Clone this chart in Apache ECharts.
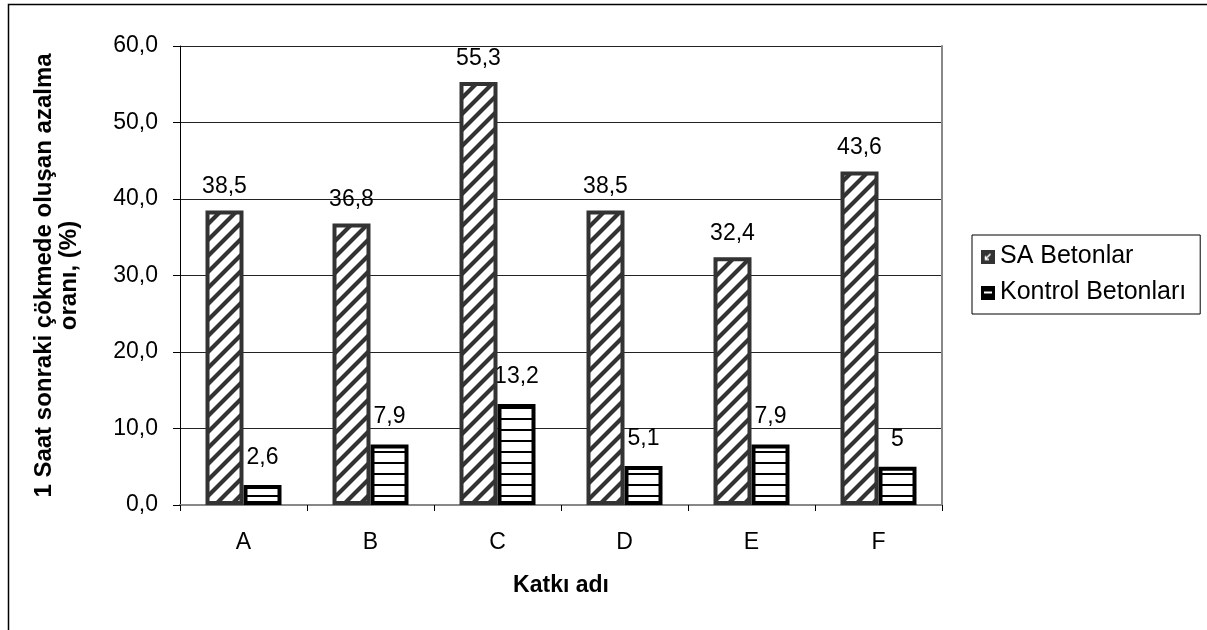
<!DOCTYPE html>
<html>
<head>
<meta charset="utf-8">
<script src="https://cdn.jsdelivr.net/npm/echarts@6/dist/echarts.min.js"></script>
<style>
  html, body { margin: 0; padding: 0; background: #fff; }
  #chart { width: 1207px; height: 630px; }
</style>
</head>
<body>
<div id="chart"></div>
<script>
// Katkı türlerine göre 1 saat sonraki çökme kaybı
const categories = ['A', 'B', 'C', 'D', 'E', 'F'];
const saBetonlar = [38.5, 36.8, 55.3, 38.5, 32.4, 43.6];
const kontrolBetonlari = [2.6, 7.9, 13.2, 5.1, 7.9, 5];
const yTickLabels = ['0,0', '10,0', '20,0', '30,0', '40,0', '50,0', '60,0'];
const seriesNames = ['SA Betonlar', 'Kontrol Betonları'];

const FONT = "'Liberation Sans', Arial, sans-serif";

// Diagonal hatch ("/") for the SA bars
function diagonalHatch() {
  const p = 16;
  const c = document.createElement('canvas');
  c.width = p; c.height = p;
  const ctx = c.getContext('2d');
  ctx.fillStyle = '#fff';
  ctx.fillRect(0, 0, p, p);
  ctx.strokeStyle = '#333';
  ctx.lineWidth = 4.2;
  ctx.beginPath();
  ctx.moveTo(-4, p + 4); ctx.lineTo(p + 4, -4);
  ctx.moveTo(-4, 4); ctx.lineTo(4, -4);
  ctx.moveTo(p - 4, p + 4); ctx.lineTo(p + 4, p - 4);
  ctx.stroke();
  return c;
}

// Horizontal stripes for the control bars
function horizontalHatch() {
  const c = document.createElement('canvas');
  c.width = 4; c.height = 11;
  const ctx = c.getContext('2d');
  ctx.fillStyle = '#fff';
  ctx.fillRect(0, 0, 4, 11);
  ctx.fillStyle = '#000';
  ctx.fillRect(0, 0, 4, 2);
  return c;
}

// Small legend swatches
function legendIcon(kind) {
  const s = 14;
  const c = document.createElement('canvas');
  c.width = s; c.height = s;
  const ctx = c.getContext('2d');
  if (kind === 'sa') {
    ctx.fillStyle = '#333';
    ctx.fillRect(0, 0, s, s);
    ctx.strokeStyle = '#fff';
    ctx.lineWidth = 1.5;
    ctx.beginPath();
    ctx.moveTo(4.5, 9.5); ctx.lineTo(9.5, 4.5);
    ctx.moveTo(4.5, 6.5); ctx.lineTo(4.5, 10); ctx.lineTo(8, 10);
    ctx.stroke();
  } else {
    ctx.fillStyle = '#000';
    ctx.fillRect(0, 0, s, s);
    ctx.fillStyle = '#fff';
    ctx.fillRect(3, 6, 8, 2);
  }
  return 'image://' + c.toDataURL();
}

const commaLabel = v => String(v).replace('.', ',');

const chart = echarts.init(document.getElementById('chart'), null, { renderer: 'canvas' });

chart.setOption({
  animation: false,
  backgroundColor: '#fff',
  textStyle: { fontFamily: FONT },
  graphic: [{
    type: 'rect',
    shape: { x: 8.5, y: 4.5, width: 1220, height: 660 },
    style: { fill: 'none', stroke: '#000', lineWidth: 1.5 },
    silent: true,
    z: -10
  }],
  grid: { left: 180, right: 265, top: 46, bottom: 125, containLabel: false },
  legend: {
    orient: 'vertical',
    left: 972,
    top: 235,
    padding: [9, 14, 9, 9],
    itemGap: 11,
    itemWidth: 14,
    itemHeight: 14,
    backgroundColor: '#fff',
    borderColor: '#000',
    borderWidth: 1,
    borderRadius: 0,
    textStyle: { fontFamily: FONT, fontSize: 25, color: '#000' },
    data: [
      { name: seriesNames[0], icon: legendIcon('sa') },
      { name: seriesNames[1], icon: legendIcon('kontrol') }
    ]
  },
  xAxis: [{
    type: 'category',
    data: categories,
    name: 'Katkı adı',
    nameLocation: 'middle',
    nameGap: 69,
    nameTextStyle: { fontFamily: FONT, fontSize: 23, fontWeight: 'bold', color: '#000' },
    axisLine: { show: true, lineStyle: { color: '#000', width: 1 } },
    axisTick: { show: true, length: 6, lineStyle: { color: '#000' } },
    axisLabel: { margin: 26, fontFamily: FONT, fontSize: 23, color: '#000' },
    splitLine: { show: false }
  }, {
    type: 'category',
    data: categories,
    position: 'top',
    axisLine: { show: true, lineStyle: { color: '#888', width: 2 } },
    axisTick: { show: false },
    axisLabel: { show: false },
    splitLine: { show: false }
  }],
  yAxis: [{
    type: 'value',
    min: 0,
    max: 60,
    interval: 10,
    name: '1 Saat sonraki çökmede oluşan azalma\noranı, (%)',
    nameLocation: 'middle',
    nameGap: 98,
    nameMoveOverlap: false,
    nameTextStyle: { fontFamily: FONT, fontSize: 24, fontWeight: 'bold', color: '#000', align: 'center', lineHeight: 25 },
    axisLine: { show: true, lineStyle: { color: '#000', width: 1 } },
    axisTick: { show: true, length: 7, lineStyle: { color: '#000' } },
    axisLabel: {
      margin: 22,
      fontFamily: FONT,
      fontSize: 23,
      color: '#000',
      formatter: v => yTickLabels[Math.round(v / 10)]
    },
    splitLine: { show: true, lineStyle: { color: '#222', width: 1 } }
  }, {
    type: 'value',
    min: 0,
    max: 60,
    interval: 10,
    position: 'right',
    axisLine: { show: true, lineStyle: { color: '#888', width: 2 } },
    axisTick: { show: false },
    axisLabel: { show: false },
    splitLine: { show: false }
  }],
  series: [{
    name: seriesNames[0],
    type: 'bar',
    data: saBetonlar,
    barWidth: 38,
    barGap: '0%',
    z: 3,
    itemStyle: {
      color: { image: diagonalHatch(), repeat: 'repeat' },
      borderColor: '#333',
      borderWidth: 4
    },
    label: {
      show: true,
      position: 'top',
      distance: 12,
      fontFamily: FONT,
      fontSize: 23,
      color: '#000',
      formatter: p => commaLabel(p.value)
    }
  }, {
    name: seriesNames[1],
    type: 'bar',
    data: kontrolBetonlari,
    barWidth: 38,
    z: 2,
    itemStyle: {
      color: { image: horizontalHatch(), repeat: 'repeat' },
      borderColor: '#000',
      borderWidth: 4
    },
    label: {
      show: true,
      position: 'top',
      distance: 16,
      fontFamily: FONT,
      fontSize: 23,
      color: '#000',
      formatter: p => commaLabel(p.value)
    }
  }]
});
</script>
</body>
</html>
